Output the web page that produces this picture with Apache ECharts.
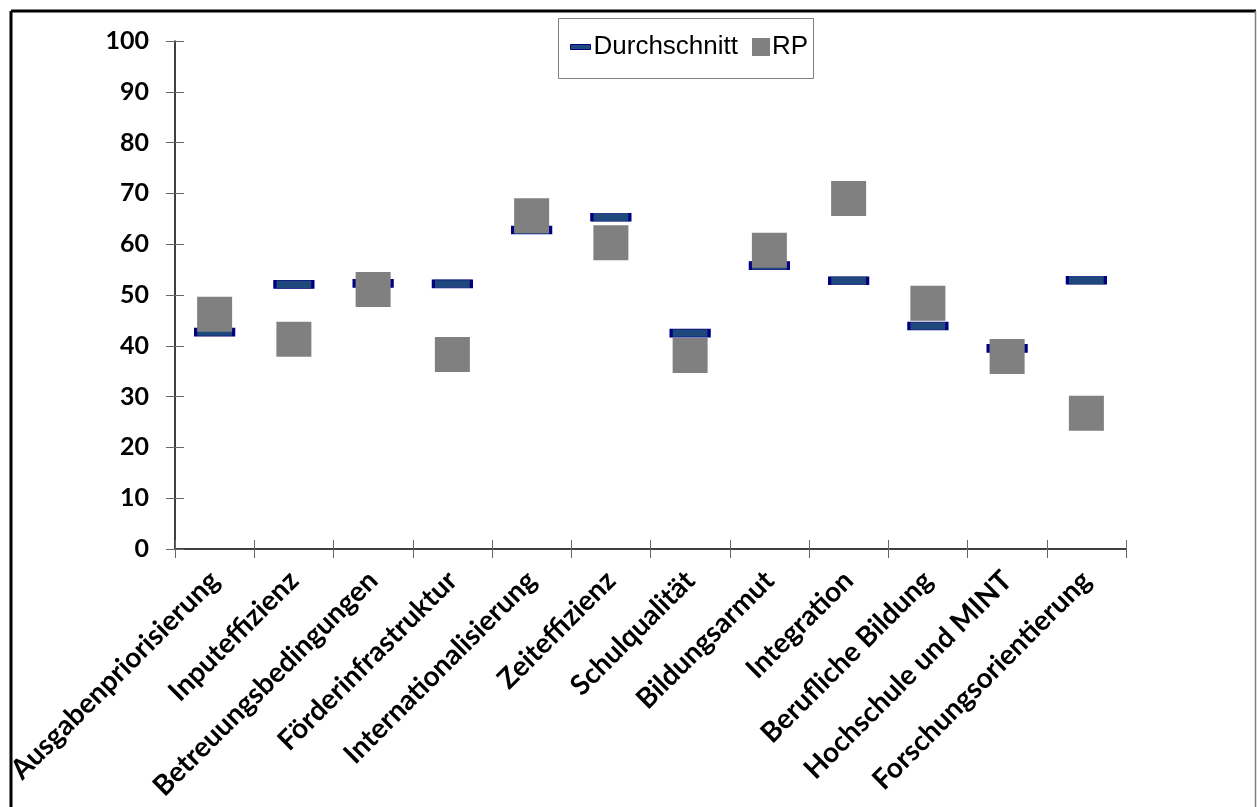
<!DOCTYPE html>
<html><head><meta charset="utf-8">
<script src="https://cdn.jsdelivr.net/npm/echarts@6/dist/echarts.min.js"></script>
<style>html,body{margin:0;padding:0;background:#fff}#c{width:1257px;height:807px}</style>
</head><body><div id="c"></div>
<script>
const categories = ['Ausgabenpriorisierung','Inputeffizienz','Betreuungsbedingungen','Förderinfrastruktur','Internationalisierung','Zeiteffizienz','Schulqualität','Bildungsarmut','Integration','Berufliche Bildung','Hochschule und MINT','Forschungsorientierung'];
const durchschnitt = [42.7, 52.1, 52.3, 52.2, 62.8, 65.3, 42.5, 55.8, 52.8, 43.9, 39.5, 52.9];
const rp = [46.2, 41.3, 51.1, 38.3, 65.6, 60.3, 38.1, 58.8, 69.0, 48.4, 37.9, 26.7];
const yTicks = [0,10,20,30,40,50,60,70,80,90,100];

const chart = echarts.init(document.getElementById('c'), null, {renderer:'canvas'});
const grid = {left:175, top:41, right:131, bottom:258, containLabel:false};
chart.setOption({
  animation:false,
  backgroundColor:'#fff',
  grid: grid,
  legend: [
    {data:['Durchschnitt'], left:570, top:32, padding:0, itemWidth:20, itemHeight:5, itemGap:0,
     textStyle:{fontFamily:'Liberation Sans', fontSize:26, color:'#000', lineHeight:30, padding:[0,0,0,-2]},
     icon:'rect', itemStyle:{color:'#1F497D', borderColor:'#000080', borderWidth:1}},
    {data:['RP'], left:752, top:32, padding:0, itemWidth:18, itemHeight:18,
     textStyle:{fontFamily:'Liberation Sans', fontSize:26, color:'#000', lineHeight:30, padding:[0,0,0,-3]},
     icon:'rect', itemStyle:{color:'#808080', borderWidth:0}}
  ],
  xAxis: [
    {type:'category', data:categories, boundaryGap:true,
     axisLine:{show:true, lineStyle:{color:'#000', width:1.5}},
     axisTick:{show:true, interval:0, length:9, lineStyle:{color:'#666'}},
     axisLabel:{interval:0, rotate:45, margin:27, fontFamily:'Lato', fontWeight:'bold', fontSize:28, color:'#000'},
     splitLine:{show:false}},
    {type:'category', data:categories, boundaryGap:true, position:'bottom',
     axisLine:{show:false}, axisTick:{show:true, inside:true, interval:0, length:9, lineStyle:{color:'#666'}},
     axisLabel:{show:false}, splitLine:{show:false}}
  ],
  yAxis: [
    {type:'value', min:0, max:100, interval:10,
     axisLine:{show:true, lineStyle:{color:'#000', width:1.5}},
     axisTick:{show:true, length:9, lineStyle:{color:'#666'}},
     axisLabel:{margin:26, fontFamily:'Lato', fontWeight:'bold', fontSize:25, color:'#000',
       formatter: v => yTicks.includes(v) ? String(v) : ''},
     splitLine:{show:false}},
    {type:'value', min:0, max:100, interval:10, position:'left',
     axisLine:{show:false}, axisTick:{show:true, inside:true, length:9, lineStyle:{color:'#666'}},
     axisLabel:{show:false}, splitLine:{show:false}}
  ],
  series: [
    {name:'Durchschnitt', type:'scatter', xAxisIndex:0, yAxisIndex:0, symbol:'rect', symbolSize:[38,8],
     itemStyle:{color:'#1F497D', borderColor:'#000080', borderWidth:1.5, opacity:1},
     data: durchschnitt, z:2},
    {name:'RP', type:'scatter', xAxisIndex:0, yAxisIndex:0, symbol:'rect', symbolSize:35,
     itemStyle:{color:'#808080', opacity:1}, data: rp, z:3}
  ],
  graphic: [
    {type:'line', shape:{x1:11, y1:11, x2:1256, y2:11}, style:{stroke:'#000', lineWidth:3}, silent:true},
    {type:'line', shape:{x1:11, y1:11, x2:11, y2:807}, style:{stroke:'#000', lineWidth:3}, silent:true},
    {type:'line', shape:{x1:1255.5, y1:11, x2:1255.5, y2:807}, style:{stroke:'#808080', lineWidth:1.5}, silent:true},
    {type:'rect', shape:{x:558.5, y:18.5, width:255, height:60}, style:{fill:null, stroke:'#808080', lineWidth:1}, silent:true, z:-1}
  ]
});
</script></body></html>
